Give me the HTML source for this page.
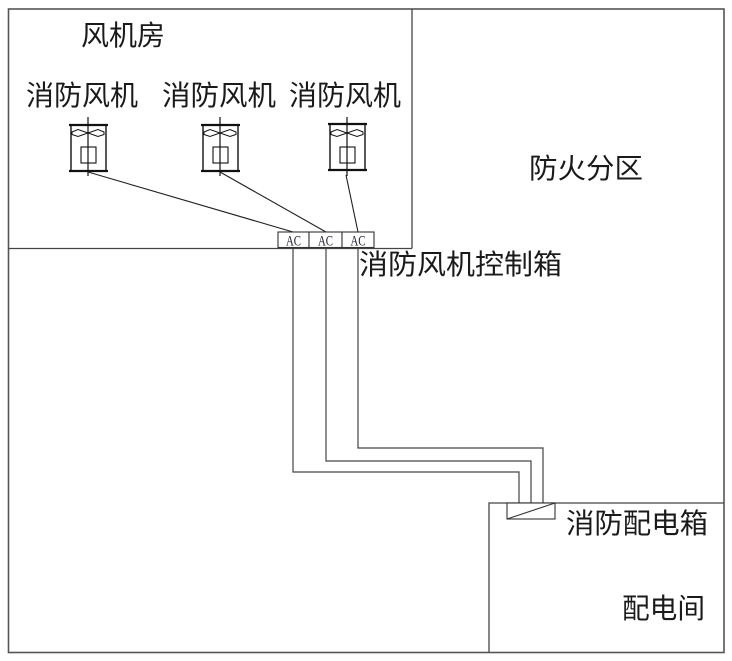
<!DOCTYPE html>
<html>
<head>
<meta charset="utf-8">
<style>
html,body{margin:0;padding:0;background:#fff;}
svg{display:block;}
text{font-family:"Liberation Sans","Noto Sans CJK SC",sans-serif;fill:#1a1a1a;}
</style>
</head>
<body>
<svg width="732" height="661" viewBox="0 0 732 661" xmlns="http://www.w3.org/2000/svg">
  <!-- outer frame -->
  <rect x="8.5" y="9" width="715.5" height="643.5" fill="none" stroke="#555" stroke-width="1.6"/>
  <!-- fan room -->
  <line x1="412" y1="9" x2="412" y2="248.5" stroke="#444" stroke-width="1.3"/>
  <line x1="8.5" y1="248.5" x2="412" y2="248.5" stroke="#444" stroke-width="1.3"/>
  <!-- distribution room -->
  <polyline points="489,652 489,503 724,503" fill="none" stroke="#444" stroke-width="1.3"/>

  <!-- fans -->
  <g id="fans" stroke="#111" fill="none">
    <g transform="translate(88,0)">
      <line x1="-19" y1="125" x2="20" y2="125" stroke-width="2.2"/>
      <line x1="-19" y1="171" x2="20" y2="171" stroke-width="2.2"/>
      <line x1="-17" y1="125" x2="-17" y2="171" stroke-width="1.4"/>
      <line x1="18" y1="125" x2="18" y2="171" stroke-width="1.4"/>
      <line x1="0" y1="117" x2="0" y2="176" stroke-width="1.2"/>
      <polygon points="-16,132 -10,129.5 0,133 -10,136.5 -16,134.5" stroke-width="1"/>
      <polygon points="16,132 10,129.5 0,133 10,136.5 16,134.5" stroke-width="1"/>
      <rect x="-7" y="147" width="15" height="16" stroke-width="1.1"/>
    </g>
    <g transform="translate(220,0)">
      <line x1="-19" y1="125" x2="20" y2="125" stroke-width="2.2"/>
      <line x1="-19" y1="171" x2="20" y2="171" stroke-width="2.2"/>
      <line x1="-17" y1="125" x2="-17" y2="171" stroke-width="1.4"/>
      <line x1="18" y1="125" x2="18" y2="171" stroke-width="1.4"/>
      <line x1="0" y1="117" x2="0" y2="176" stroke-width="1.2"/>
      <polygon points="-16,132 -10,129.5 0,133 -10,136.5 -16,134.5" stroke-width="1"/>
      <polygon points="16,132 10,129.5 0,133 10,136.5 16,134.5" stroke-width="1"/>
      <rect x="-7" y="147" width="15" height="16" stroke-width="1.1"/>
    </g>
    <g transform="translate(347,0)">
      <line x1="-19" y1="124" x2="20" y2="124" stroke-width="2.2"/>
      <line x1="-19" y1="170" x2="20" y2="170" stroke-width="2.2"/>
      <line x1="-17" y1="124" x2="-17" y2="170" stroke-width="1.4"/>
      <line x1="18" y1="124" x2="18" y2="170" stroke-width="1.4"/>
      <line x1="0" y1="117" x2="0" y2="176" stroke-width="1.2"/>
      <polygon points="-16,132 -10,129.5 0,133 -10,136.5 -16,134.5" stroke-width="1"/>
      <polygon points="16,132 10,129.5 0,133 10,136.5 16,134.5" stroke-width="1"/>
      <rect x="-7" y="147" width="15" height="16" stroke-width="1.1"/>
    </g>
  </g>

  <!-- fan to AC lines -->
  <g stroke="#222" stroke-width="1.1" fill="none">
    <line x1="88" y1="172" x2="293" y2="232"/>
    <line x1="220" y1="172" x2="326" y2="232"/>
    <line x1="346" y1="175" x2="358" y2="232"/>
  </g>

  <!-- AC boxes -->
  <g stroke="#333" stroke-width="1.1" fill="#fff">
    <rect x="278" y="232" width="31" height="15.5"/>
    <rect x="309" y="232" width="33" height="15.5"/>
    <rect x="342" y="232" width="32" height="15.5"/>
  </g>
  <g>
    <text x="293.5" y="245.5" text-anchor="middle" font-size="15" style="font-family:'Liberation Serif',serif;fill:#223" textLength="15" lengthAdjust="spacingAndGlyphs">AC</text>
    <text x="325.5" y="245.5" text-anchor="middle" font-size="15" style="font-family:'Liberation Serif',serif;fill:#223" textLength="15" lengthAdjust="spacingAndGlyphs">AC</text>
    <text x="358" y="245.5" text-anchor="middle" font-size="15" style="font-family:'Liberation Serif',serif;fill:#223" textLength="15" lengthAdjust="spacingAndGlyphs">AC</text>
  </g>

  <!-- cables -->
  <g stroke="#444" stroke-width="1.2" fill="none">
    <polyline points="293,248 293,472 519,472 519,503"/>
    <polyline points="326,248 326,461 531,461 531,503"/>
    <polyline points="358,248 358,448 543,448 543,503"/>
  </g>

  <!-- distribution box -->
  <g stroke="#333" stroke-width="1.1" fill="none">
    <rect x="507" y="503" width="48" height="16" fill="#fff"/>
    <line x1="507" y1="519" x2="555" y2="503"/>
  </g>

  <!-- labels -->
  <g font-size="28">
    <text x="81" y="45" textLength="84" lengthAdjust="spacingAndGlyphs">风机房</text>
    <text x="26" y="105" textLength="112" lengthAdjust="spacingAndGlyphs">消防风机</text>
    <text x="162" y="105" textLength="114" lengthAdjust="spacingAndGlyphs">消防风机</text>
    <text x="289" y="105" textLength="112" lengthAdjust="spacingAndGlyphs">消防风机</text>
    <text x="529" y="178" textLength="114" lengthAdjust="spacingAndGlyphs">防火分区</text>
    <text x="359" y="274" textLength="203" lengthAdjust="spacingAndGlyphs">消防风机控制箱</text>
    <text x="566" y="533" textLength="142" lengthAdjust="spacingAndGlyphs">消防配电箱</text>
    <text x="622" y="618" textLength="83" lengthAdjust="spacingAndGlyphs">配电间</text>
  </g>
</svg>
</body>
</html>
